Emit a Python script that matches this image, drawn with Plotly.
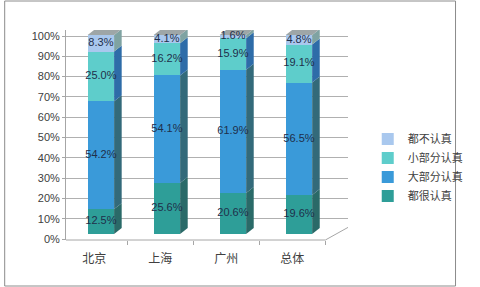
import plotly.graph_objects as go

categories = ["北京", "上海", "广州", "总体"]
series_names = ["都很认真", "大部分认真", "小部分认真", "都不认真"]
s_all = [12.5, 25.6, 20.6, 19.6]      # 都很认真
s_most = [54.2, 54.1, 61.9, 56.5]     # 大部分认真
s_some = [25.0, 16.2, 15.9, 19.1]     # 小部分认真
s_none = [8.3, 4.1, 1.6, 4.8]         # 都不认真
y_ticks = [0, 10, 20, 30, 40, 50, 60, 70, 80, 90, 100]

series = [s_all, s_most, s_some, s_none]
front_colors = ["#2E9E98", "#3A9AD9", "#5ECDCB", "#A9C8EE"]
side_colors = ["#2A6A68", "#336A7A", "#2E6CA8", "#7FA3A2"]
top_color = "#9EA6A7"

W, H = 480, 287
ml, mr, mt, mb = 66, 115, 30, 47
pw, ph = W - ml - mr, H - mt - mb

BAR_OFF, BAR_W, SIDE_W, DEPTH = -0.1, 0.4, 0.115, 3.0
xs = list(range(len(categories)))

fig = go.Figure()
shapes = []
bases = [0.0] * len(categories)
for k, (name, vals) in enumerate(zip(series_names, series)):
    fig.add_trace(go.Bar(
        x=xs, y=vals, base=list(bases), name=name,
        offset=BAR_OFF, width=BAR_W,
        marker=dict(color=front_colors[k], line=dict(width=0)),
        xaxis="x", yaxis="y",
    ))
    for i, v in enumerate(vals):
        b = bases[i]
        x0 = i + BAR_OFF + BAR_W
        x1 = x0 + SIDE_W
        shapes.append(dict(
            type="path", xref="x", yref="y", layer="between",
            path=f"M {x0},{b} L {x1},{b + DEPTH} L {x1},{b + v + DEPTH} L {x0},{b + v} Z",
            fillcolor=side_colors[k], line=dict(width=0),
        ))
    bases = [bb + v for bb, v in zip(bases, vals)]

# top faces
for i, T in enumerate(bases):
    xa = i + BAR_OFF
    xb = xa + BAR_W
    shapes.append(dict(
        type="path", xref="x", yref="y", layer="between",
        path=f"M {xa},{T} L {xb},{T} L {xb + SIDE_W},{T + DEPTH} L {xa + SIDE_W},{T + DEPTH} Z",
        fillcolor=top_color, line=dict(width=0),
    ))

# data labels
lab_x, lab_y, lab_t = [], [], []
cum = [0.0] * len(categories)
for vals in series:
    for i, v in enumerate(vals):
        lab_x.append(i + BAR_OFF + BAR_W / 2)
        lab_y.append(cum[i] + v / 2)
        lab_t.append(f"{v:.1f}%")
    cum = [c + v for c, v in zip(cum, vals)]
fig.add_trace(go.Scatter(
    x=lab_x, y=lab_y, text=lab_t, mode="text", showlegend=False,
    textfont=dict(family="Liberation Sans", size=11, color="#1F2F4A"),
    hoverinfo="skip", xaxis="x", yaxis="y",
))
# invisible trace to carry the label axis
fig.add_trace(go.Scatter(x=[0], y=[0], mode="markers", marker=dict(opacity=0),
                         showlegend=False, hoverinfo="skip", xaxis="x", yaxis="y2"))

# floor edges and outer border
shapes.append(dict(type="line", xref="x", yref="paper", x0=-0.5, x1=3.5, y0=0, y1=0,
                   line=dict(color="#A6A6A6", width=1)))
shapes.append(dict(type="line", xref="x", yref="paper", x0=3.5, x1=3.843, y0=0, y1=0.06,
                   line=dict(color="#A6A6A6", width=1)))
shapes.append(dict(type="rect", xref="paper", yref="paper",
                   x0=(1 - ml) / pw, x1=(W - 1 - ml) / pw,
                   y0=(ph + mt - (H - 1)) / ph, y1=(ph + mt - 1) / ph,
                   line=dict(color="#8C8C8C", width=1)))

fig.update_layout(
    width=W, height=H,
    margin=dict(l=ml, r=mr, t=mt, b=mb),
    paper_bgcolor="white", plot_bgcolor="white",
    barmode="overlay", bargap=0,
    font=dict(family="Liberation Sans", size=11, color="#404040"),
    xaxis=dict(range=[-0.4286, 3.843], tickvals=xs, ticktext=categories,
               showgrid=False, zeroline=False, showline=False, ticks="",
               ticklabelstandoff=10,
               tickfont=dict(family="Noto Sans CJK SC", size=12, color="#404040"),
               minor=dict(tickvals=[-0.5, 0.5, 1.5, 2.5, 3.5], ticks="outside",
                          ticklen=4, tickcolor="#A6A6A6", showgrid=False),
               fixedrange=True),
    yaxis=dict(range=[-3.015, 102.51], visible=False, showgrid=False, zeroline=False),
    yaxis2=dict(range=[-0.4926, 102.96], overlaying="y", side="left",
                tickvals=y_ticks, ticktext=[f"{t}%" for t in y_ticks],
                showgrid=True, gridcolor="#B0B0B0", gridwidth=1, zeroline=False,
                showline=True, linecolor="#A6A6A6", ticks="outside", ticklen=3,
                tickcolor="#A6A6A6",
                tickfont=dict(family="Liberation Sans", size=11, color="#404040")),
    legend=dict(x=1.07, y=0.55, xanchor="left", yanchor="top",
                traceorder="reversed",
                font=dict(family="Noto Sans CJK SC", size=11, color="#404040"),
                bgcolor="rgba(0,0,0,0)"),
    shapes=shapes,
)

fig.write_html("out.html")
